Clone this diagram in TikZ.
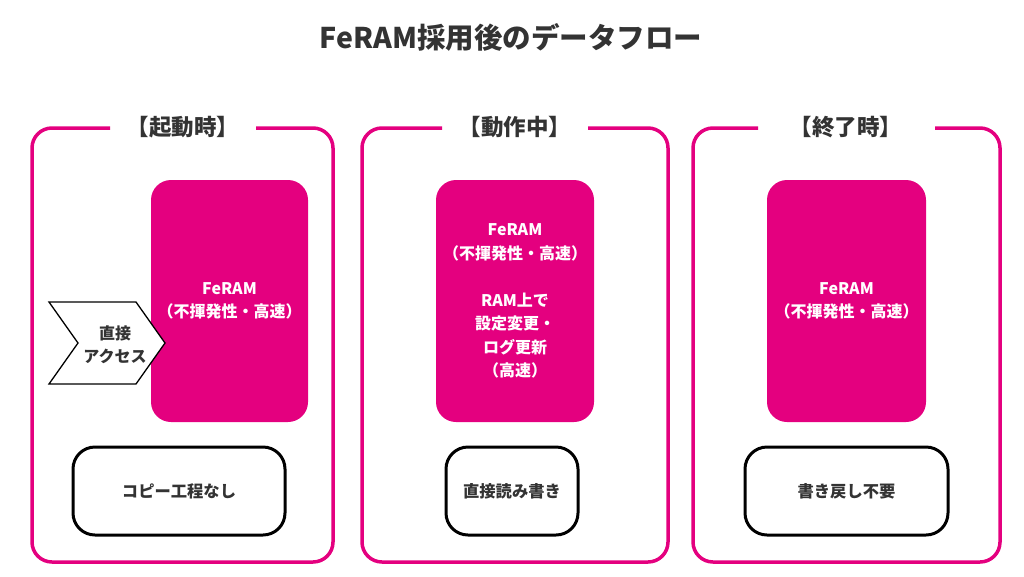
\documentclass[tikz,border=0pt]{standalone}
\usepackage{fontspec}
\setmainfont{Noto Sans CJK JP}
\definecolor{mag}{HTML}{E4007F}
\definecolor{ink}{HTML}{333333}
\begin{document}
\begin{tikzpicture}[x=1pt,y=-1pt,
  panel/.style={draw=mag,line width=3.5pt,rounded corners=20pt},
  ptitle/.style={text=ink,font=\fontsize{22.5}{26}\selectfont\bfseries},
  fer/.style={fill=mag,draw=none,rounded corners=20pt,minimum height=242pt,text=white,align=center,font=\fontsize{16}{23.5}\selectfont\bfseries},
  note/.style={draw=black,line width=3pt,rounded corners=22pt,minimum height=88pt,fill=white,text=ink,font=\fontsize{16.3}{20}\selectfont\bfseries},
  chev/.style={draw=black,line width=1.3pt,fill=white,line join=miter}]
\path[use as bounding box] (0,0) rectangle (1024,576);
\node[text=ink,font=\fontsize{28.5}{32}\selectfont\bfseries] (title) at (511,37) {FeRAM採用後のデータフロー};
% panel 1
\draw[panel] (256,128) -- (333,128) -- (333,562) -- (32,562) -- (32,128) -- (110,128);
\node[ptitle] (t1) at (183,127) {【起動時】};
\node[fer,minimum width=157pt] (f1) at (229.5,301) {FeRAM\\（不揮発性・高速）};
\draw[chev] (49,302) -- (136,302) -- (165,343) -- (136,384) -- (49,384) -- (78,343) -- cycle;
\node[text=ink,align=center,font=\fontsize{16}{23}\selectfont\bfseries] (acc) at (115,345) {直接\\アクセス};
\node[note,minimum width=212pt] (n1) at (179,491) {コピー工程なし};
% panel 2
\draw[panel] (588,128) -- (668,128) -- (668,562) -- (362,562) -- (362,128) -- (442,128);
\node[ptitle] (t2) at (515,127) {【動作中】};
\node[fer,minimum width=158pt] (f2) at (515,301) {FeRAM\\（不揮発性・高速）\\[23.5pt]RAM上で\\設定変更・\\ログ更新\\（高速）};
\node[note,minimum width=132pt] (n2) at (512,491) {直接読み書き};
% panel 3
\draw[panel] (935,128) -- (1000,128) -- (1000,562) -- (693,562) -- (693,128) -- (758,128);
\node[ptitle] (t3) at (846,127) {【終了時】};
\node[fer,minimum width=159pt] (f3) at (846.5,301) {FeRAM\\（不揮発性・高速）};
\node[note,minimum width=203pt] (n3) at (846.5,491) {書き戻し不要};
\end{tikzpicture}
\end{document}
